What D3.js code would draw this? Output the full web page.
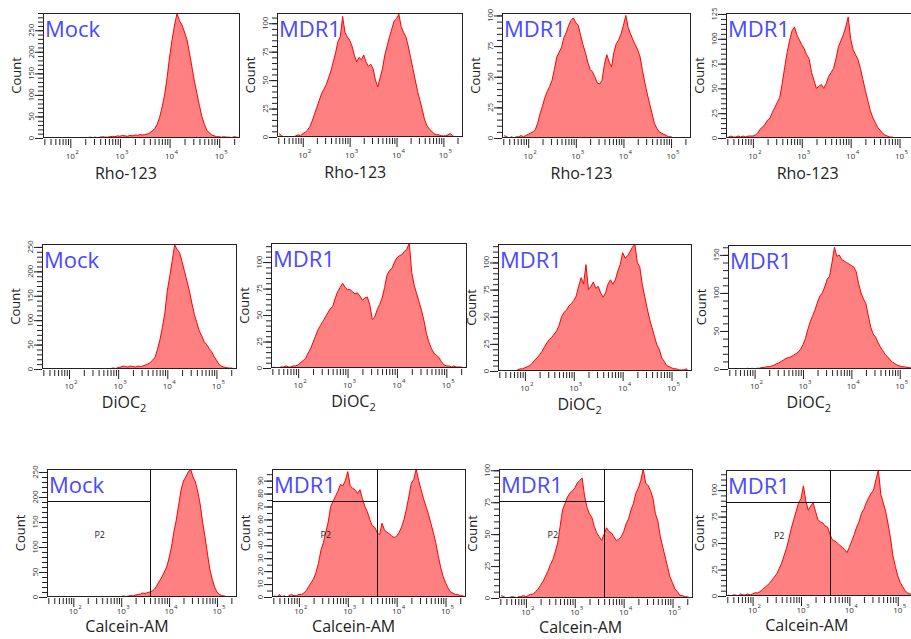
<!DOCTYPE html>
<html>
<head>
<meta charset="utf-8">
<script src="https://cdn.jsdelivr.net/npm/d3@7"></script>
<style>
body { margin: 0; background: #fff; }
svg { display: block; font-family: "Open Sans", sans-serif; }
</style>
</head>
<body>
<svg id="fig" width="911" height="639"></svg>
<script>
// bin centres, log10 of the fluorescence value
const binLog = [1.5,1.55,1.6,1.65,1.7,1.75,1.8,1.85,1.9,1.95,
  2.0,2.05,2.1,2.15,2.2,2.25,2.3,2.35,2.4,2.45,
  2.5,2.55,2.6,2.65,2.7,2.75,2.8,2.85,2.9,2.95,
  3.0,3.05,3.1,3.15,3.2,3.25,3.3,3.35,3.4,3.45,
  3.5,3.55,3.6,3.65,3.7,3.75,3.8,3.85,3.9,3.95,
  4.0,4.05,4.1,4.15,4.2,4.25,4.3,4.35,4.4,4.45,
  4.5,4.55,4.6,4.65,4.7,4.75,4.8,4.85,4.9,4.95,
  5.0,5.05,5.1,5.15,5.2,5.25,5.3,5.35,5.4];

// Rho-123 counts
const rhoMock = [0,0,0,0,0,0,0,0,0,0,
  0,0,0,0,0,0,0,1,2,1,
  2,1,2,3,2,2,3,4,3,5,
  4,6,5,4,6,5,7,6,8,7,
  8,9,12,16,22,32,48,72,100,140,
  188,228,262,289,272,262,246,228,198,165,
  132,104,76,50,32,18,12,7,5,3,
  3,2,3,2,2,1,3,2,1];
const rhoMdrA = [3,1,0,0,0,0,0,1,2,1,
  3,4,6,9,14,20,26,32,38,42,
  46,52,58,66,74,84,88,106,92,88,
  85,80,72,66,70,68,72,66,62,64,
  60,50,44,52,60,72,80,88,95,102,
  104,108,97,92,88,80,70,60,50,40,
  32,24,15,10,7,5,3,2,2,1,
  1,1,2,3,1,0,0,0,0];
const rhoMdrB = [2,1,0,1,0,1,1,2,1,2,
  3,4,5,7,12,20,26,33,38,42,
  47,56,66,70,74,82,86,92,96,98,
  94,92,84,76,70,62,56,54,50,45,
  44,47,60,68,62,58,70,77,80,85,
  92,100,90,85,80,76,72,66,55,45,
  36,28,20,12,8,5,4,3,2,1,
  1,0,0,0,0,0,0,0,0];
const rhoMdrC = [1,2,1,1,2,1,2,1,2,2,
  2,3,5,9,11,14,18,20,26,31,
  36,41,55,71,86,98,108,112,104,99,
  94,90,84,80,66,58,50,52,54,50,
  55,62,66,70,80,92,98,104,112,122,
  100,89,84,79,70,59,48,38,28,21,
  16,11,8,5,3,2,1,1,0,0,
  0,0,0,0,0,0,0,0,0];

// DiOC2 counts
const diocMock = [0,0,0,0,0,0,0,0,0,0,
  0,0,0,0,0,0,0,0,0,0,
  0,0,0,0,0,0,0,1,2,1,
  3,4,6,5,4,6,5,4,6,5,
  6,8,10,13,18,24,40,60,85,115,
  160,190,222,254,245,238,220,200,180,160,
  135,112,95,78,68,56,50,42,36,26,
  18,10,6,4,3,2,2,1,0];
const diocMdrA = [1,0,0,1,1,2,1,1,2,2,
  3,5,7,9,14,18,24,30,36,40,
  44,48,52,56,58,66,72,76,80,76,
  74,74,72,70,71,68,64,66,67,60,
  46,48,55,60,66,76,88,92,94,100,
  104,106,107,110,112,118,90,78,70,62,
  54,44,32,24,18,14,12,10,6,3,
  2,2,1,2,1,1,1,0,0];
const diocMdrB = [0,0,0,0,0,0,0,1,2,2,
  3,4,5,7,10,12,15,18,22,26,
  29,31,34,37,42,50,54,56,60,62,
  65,69,78,86,80,98,75,78,82,76,
  78,72,68,72,80,84,80,84,92,98,
  109,104,106,110,114,117,100,96,80,69,
  58,48,40,32,24,20,12,9,5,4,
  3,2,2,1,1,1,2,0,0];
const diocMdrC = [0,0,0,0,0,0,0,1,0,1,
  0,1,1,2,2,3,3,4,5,7,
  8,10,12,14,15,16,18,20,22,26,
  32,40,52,62,70,78,88,96,100,108,
  118,122,140,160,148,150,144,142,140,138,
  136,134,128,112,100,92,86,70,55,46,
  42,35,29,24,19,16,12,9,7,5,
  4,3,3,2,2,1,1,0,0];

// Calcein-AM counts
const calcMock = [0,0,0,1,0,0,0,0,0,0,
  0,0,0,0,0,0,0,1,0,0,
  0,0,0,0,0,0,1,0,1,1,
  1,2,1,2,3,2,4,5,6,8,
  7,9,10,12,16,24,32,40,50,60,
  78,100,130,154,184,214,232,240,250,256,
  240,230,210,185,150,120,88,56,36,20,
  10,5,3,2,1,1,0,0,0];
const calcMdrA = [1,0,2,0,1,0,1,2,1,1,
  2,2,3,5,8,11,14,19,26,36,
  42,50,58,70,74,78,82,87,86,90,
  97,86,84,83,80,83,76,70,66,60,
  55,54,50,48,57,52,50,49,47,46,
  47,50,54,60,68,78,88,91,99,90,
  83,76,70,64,57,50,42,32,23,16,
  11,7,4,3,2,2,1,1,0];
const calcMdrB = [2,1,0,0,1,1,0,1,1,2,
  1,2,3,3,5,7,10,13,17,21,
  26,30,36,43,56,69,74,79,82,84,
  86,90,92,94,80,71,66,63,56,51,
  48,45,50,55,52,51,48,45,46,48,
  52,58,62,69,74,82,86,92,101,90,
  88,84,78,66,60,48,40,32,24,16,
  12,7,5,2,2,1,1,0,0];
const calcMdrC = [1,0,1,1,0,2,1,1,2,1,
  2,3,3,4,6,8,10,12,15,18,
  21,26,31,38,45,54,64,72,80,88,
  92,104,90,81,85,88,80,72,70,69,
  66,65,58,53,52,50,48,46,44,41,
  46,52,58,65,70,78,82,88,93,97,
  100,110,119,96,88,80,68,55,38,28,
  19,13,9,5,3,2,1,0,0];

// x axis ticks
const xMinorTicks = [30,40,50,60,70,80,90,
  200,300,400,500,600,700,800,900,
  2000,3000,4000,5000,6000,7000,8000,9000,
  20000,30000,40000,50000,60000,70000,80000,90000,200000];
const xMajorTicks = [100,1000,10000,100000];
const xMajorExp = ["2","3","4","5"];

const xMin = Math.pow(10, 1.45);
const xMax = 262144;
const gateX = Math.pow(10, 3.6);
const p2X = Math.pow(10, 2.55);
const titleX = Math.pow(10, 3.12);

// per-row offsets of labels below the plot
const rows = [
  {title: "Rho-123", tickDy: 21, titleDy: 41, gate: false},
  {title: "DiOC", sub: "2", tickDy: 20, titleDy: 39, gate: false},
  {title: "Calcein-AM", tickDy: 17, titleDy: 35, gate: true}
];

const panels = [
  {data: rhoMock,  name: "Mock", left: 43,  right: 240, top: 13,  bottom: 138, yMax: 290, yStep: 50, yMinor: 10},
  {data: rhoMdrA,  name: "MDR1", left: 277, right: 463, top: 13,  bottom: 137, yMax: 109, yStep: 25, yMinor: 5},
  {data: rhoMdrB,  name: "MDR1", left: 502, right: 691, top: 13,  bottom: 138, yMax: 102, yStep: 25, yMinor: 5},
  {data: rhoMdrC,  name: "MDR1", left: 726, right: 920, top: 13,  bottom: 138, yMax: 126, yStep: 25, yMinor: 5},
  {data: diocMock, name: "Mock", left: 42,  right: 237, top: 244, bottom: 369, yMax: 256, yStep: 50, yMinor: 10},
  {data: diocMdrA, name: "MDR1", left: 271, right: 467, top: 243, bottom: 368, yMax: 118, yStep: 25, yMinor: 5},
  {data: diocMdrB, name: "MDR1", left: 498, right: 692, top: 244, bottom: 371, yMax: 117, yStep: 25, yMinor: 5},
  {data: diocMdrC, name: "MDR1", left: 728, right: 920, top: 245, bottom: 369, yMax: 163, yStep: 50, yMinor: 10},
  {data: calcMock, name: "Mock", left: 47,  right: 237, top: 469, bottom: 597, yMax: 256, yStep: 50, yMinor: 10},
  {data: calcMdrA, name: "MDR1", left: 272, right: 466, top: 469, bottom: 597, yMax: 99,  yStep: 10, yMinor: 5},
  {data: calcMdrB, name: "MDR1", left: 499, right: 693, top: 469, bottom: 598, yMax: 101, yStep: 25, yMinor: 5},
  {data: calcMdrC, name: "MDR1", left: 726, right: 918, top: 470, bottom: 596, yMax: 119, yStep: 25, yMinor: 5}
];

const svg = d3.select("#fig");

panels.forEach(function(p, k) {
  drawPanel(p, k, rows[Math.floor(k / 4)]);
});

function drawPanel(p, k, row) {
  let x = d3.scaleLog().domain([xMin, xMax]).range([p.left, p.right]);
  let y = d3.scaleLinear().domain([0, p.yMax]).range([p.bottom, p.top]);
  let g = svg.append("g");

  g.append("clipPath").attr("id", "clip" + k)
    .append("rect")
    .attr("x", p.left).attr("y", p.top)
    .attr("width", p.right - p.left).attr("height", p.bottom - p.top);

  let pts = p.data.map((v, i) => [Math.pow(10, binLog[i]), v]);

  // histogram: filled area + red outline
  let area = d3.area()
    .x(d => x(d[0]))
    .y0(p.bottom)
    .y1(d => y(d[1]));
  let line = d3.line()
    .x(d => x(d[0]))
    .y(d => y(d[1]));
  g.append("path").datum(pts)
    .attr("d", area)
    .attr("fill", "#ff8080")
    .attr("clip-path", `url(#clip${k})`);
  g.append("path").datum(pts)
    .attr("d", line)
    .attr("fill", "none")
    .attr("stroke", "#ff0000")
    .attr("stroke-width", 1)
    .attr("clip-path", `url(#clip${k})`);

  // frame
  g.append("rect")
    .attr("x", p.left + 0.5).attr("y", p.top + 0.5)
    .attr("width", p.right - p.left - 1).attr("height", p.bottom - p.top - 1)
    .attr("fill", "none")
    .attr("stroke", "#222");

  // gates (Calcein-AM row)
  if (row.gate) {
    let gx = Math.round(x(gateX)) + 0.5;
    g.append("line")
      .attr("x1", gx).attr("x2", gx)
      .attr("y1", p.top).attr("y2", p.bottom)
      .attr("stroke", "#111");
    g.append("line")
      .attr("x1", p.left).attr("x2", gx)
      .attr("y1", p.top + 32.5).attr("y2", p.top + 32.5)
      .attr("stroke", "#111");
    g.append("text")
      .attr("x", x(p2X)).attr("y", p.top + 69)
      .attr("text-anchor", "middle")
      .attr("font-size", 9)
      .attr("fill", "#222")
      .text("P2");
  }

  // x axis: minor and major ticks
  g.append("g")
    .attr("transform", `translate(0,${p.bottom + 1})`)
    .call(d3.axisBottom(x).tickValues(xMinorTicks).tickSize(6).tickFormat("").tickSizeOuter(0))
    .call(a => a.select(".domain").remove())
    .attr("color", "#222");
  g.append("g")
    .attr("transform", `translate(0,${p.bottom + 1})`)
    .call(d3.axisBottom(x).tickValues(xMajorTicks).tickSize(9).tickFormat("").tickSizeOuter(0))
    .call(a => a.select(".domain").remove())
    .attr("color", "#222");

  xMajorTicks.forEach(function(t, i) {
    let tx = x(t);
    if (tx > 905) return;
    g.append("text")
      .attr("x", tx).attr("y", p.bottom + row.tickDy)
      .attr("text-anchor", "middle")
      .attr("font-size", 8)
      .attr("fill", "#333")
      .text("10");
    g.append("text")
      .attr("x", tx + 5).attr("y", p.bottom + row.tickDy - 5)
      .attr("font-size", 6)
      .attr("fill", "#333")
      .text(xMajorExp[i]);
  });

  // y axis
  g.append("g")
    .attr("transform", `translate(${p.left},0)`)
    .call(d3.axisLeft(y).tickValues(d3.range(0, p.yMax + 0.01, p.yMinor)).tickSize(5).tickFormat("").tickSizeOuter(0))
    .call(a => a.select(".domain").remove())
    .attr("color", "#222");
  let yMajor = d3.range(0, p.yMax + 0.01, p.yStep);
  g.append("g")
    .attr("transform", `translate(${p.left},0)`)
    .call(d3.axisLeft(y).tickValues(yMajor).tickSize(8).tickFormat("").tickSizeOuter(0))
    .call(a => a.select(".domain").remove())
    .attr("color", "#222");
  yMajor.forEach(function(v) {
    let ty = y(v);
    g.append("text")
      .attr("transform", `translate(${p.left - 9},${ty}) rotate(-90)`)
      .attr("text-anchor", "middle")
      .attr("font-size", 7.5)
      .attr("fill", "#333")
      .text(v);
  });

  // Count label
  g.append("text")
    .attr("transform", `translate(${p.left - 22},${(p.top + p.bottom) / 2}) rotate(-90)`)
    .attr("text-anchor", "middle")
    .attr("font-size", 13)
    .attr("fill", "#222")
    .text("Count");

  // x title
  let title = g.append("text")
    .attr("x", x(titleX)).attr("y", p.bottom + row.titleDy)
    .attr("text-anchor", "middle")
    .attr("font-size", 16)
    .attr("fill", "#222")
    .text(row.title);
  if (row.sub) {
    title.append("tspan")
      .attr("dy", 4)
      .attr("font-size", 11)
      .text(row.sub);
  }

  // sample name
  g.append("text")
    .attr("x", p.left + 2).attr("y", p.top + 24)
    .attr("font-size", 22)
    .attr("fill", "#4848ff")
    .text(p.name);
}
</script>
</body>
</html>
